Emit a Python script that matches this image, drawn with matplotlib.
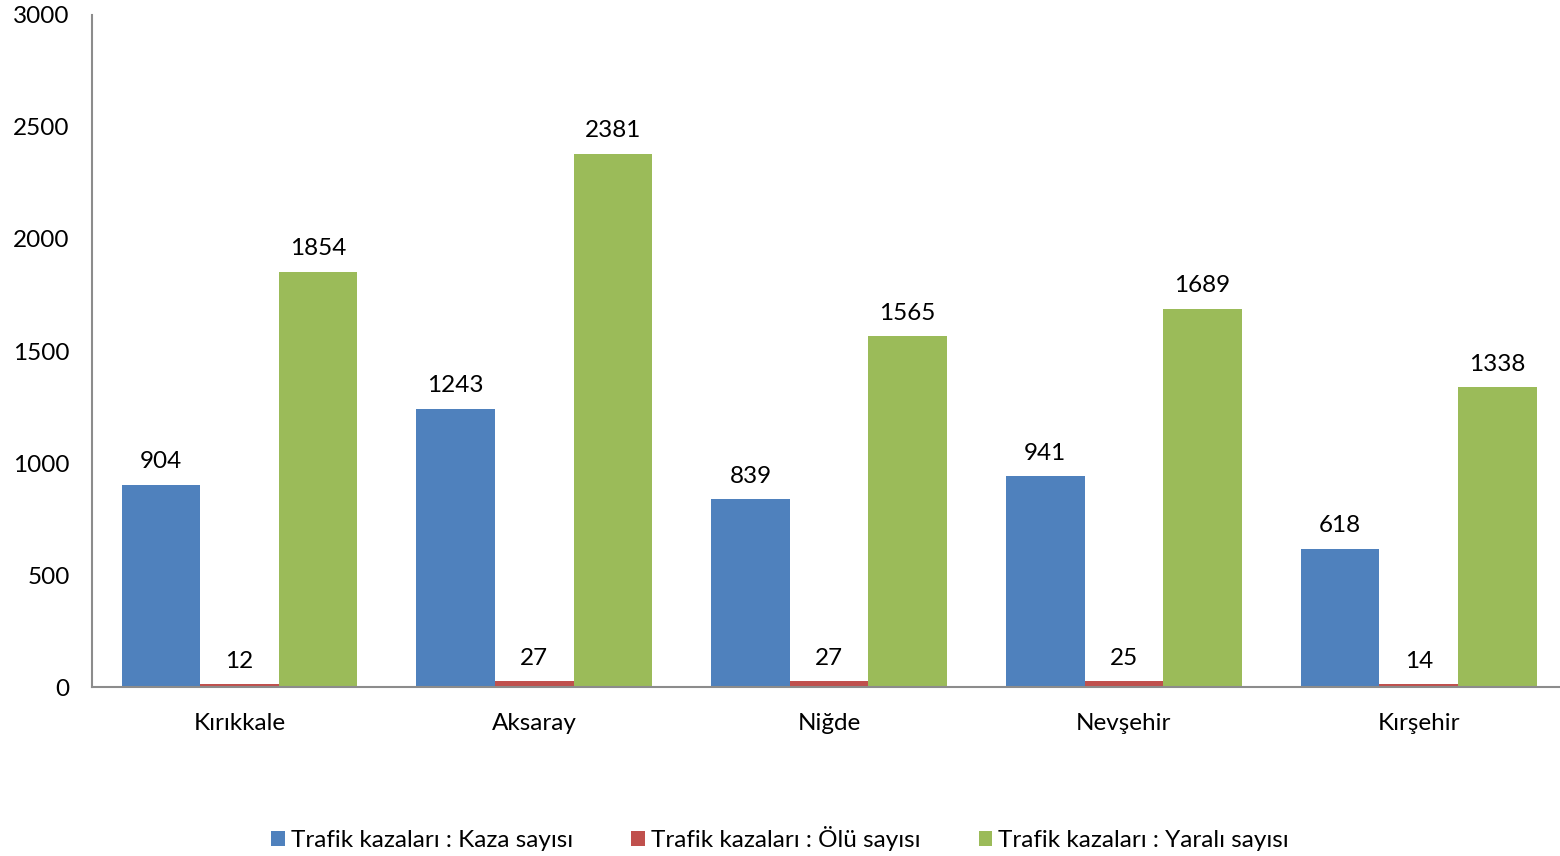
import matplotlib.pyplot as plt
import numpy as np

provinces = ["Kırıkkale", "Aksaray", "Niğde", "Nevşehir", "Kırşehir"]
kaza = [904, 1243, 839, 941, 618]
olu = [12, 27, 27, 25, 14]
yarali = [1854, 2381, 1565, 1689, 1338]

series_names = [
    "Trafik kazaları : Kaza sayısı",
    "Trafik kazaları : Ölü sayısı",
    "Trafik kazaları : Yaralı sayısı",
]
colors = ["#4F81BD", "#C0504D", "#9BBB59"]

plt.rcParams["font.family"] = ["Lato", "DejaVu Sans"]

fig = plt.figure(figsize=(15.6, 8.56), dpi=100)
ax = fig.add_axes([0.059, 0.1974, 0.9449, 0.7851])

x = np.arange(len(provinces))
width = 1 / 3.75
for i, (vals, name, c) in enumerate(zip([kaza, olu, yarali], series_names, colors)):
    pos = x + (i - 1) * width
    ax.bar(pos, vals, width, color=c, label=name, zorder=2)
    for p, v in zip(pos, vals):
        ax.text(p, v + 55, str(v), ha="center", va="bottom", fontsize=17.5, color="black")

ax.set_xlim(-0.5, len(provinces) - 0.5)
ax.set_ylim(0, 3000)
ax.set_yticks(range(0, 3001, 500))
ax.set_yticklabels([str(t) for t in range(0, 3001, 500)], fontsize=17.5)
ax.set_xticks(x)
ax.set_xticklabels(provinces, fontsize=17.5)
ax.tick_params(axis="both", length=0)
ax.tick_params(axis="y", pad=16)
ax.tick_params(axis="x", pad=19)

for side in ["top", "right"]:
    ax.spines[side].set_visible(False)
for side in ["left", "bottom"]:
    ax.spines[side].set_color("#8C8C8C")
    ax.spines[side].set_linewidth(1.5)

fig.legend(
    loc="lower center",
    bbox_to_anchor=(0.5, -0.02),
    ncol=3,
    frameon=False,
    fontsize=17.5,
    handlelength=0.55,
    handleheight=0.55,
    handletextpad=0.25,
    columnspacing=2.4,
)

fig.savefig("out.png", dpi=100)
